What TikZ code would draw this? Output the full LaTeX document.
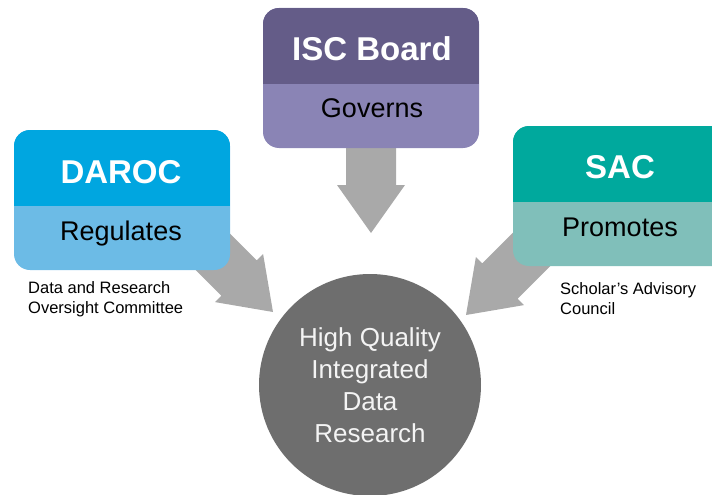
\documentclass[tikz,border=0pt]{standalone}
\usepackage{fontspec}
\setmainfont{Liberation Sans}
\usetikzlibrary{calc}
\definecolor{darocTop}{HTML}{00A6E0}
\definecolor{darocBot}{HTML}{6CBBE6}
\definecolor{iscTop}{HTML}{645C88}
\definecolor{iscBot}{HTML}{8A84B5}
\definecolor{sacTop}{HTML}{00A99D}
\definecolor{sacBot}{HTML}{80BFBA}
\definecolor{arrowGray}{HTML}{A9A9A9}
\definecolor{circleGray}{HTML}{6E6E6E}
\definecolor{circleText}{HTML}{F4F4F4}
\tikzset{
  box/.style={rectangle, rounded corners=16pt, minimum width=216pt, minimum height=140pt, inner sep=0pt, draw=none},
  topband/.style={path picture={\fill[#1, sharp corners] (path picture bounding box.north west) rectangle ([yshift=-76pt]path picture bounding box.north east);}},
  titletext/.style={text=white, font=\fontsize{33}{40}\selectfont\bfseries, anchor=base, inner sep=0pt},
  roletext/.style={text=black, font=\fontsize{27}{32}\selectfont, anchor=base, inner sep=0pt},
  subtext/.style={text=black, font=\fontsize{16.5}{20}\selectfont, anchor=north west, align=left, inner sep=0pt},
  centertext/.style={circle, fill=circleGray, minimum size=222pt, inner sep=0pt, text=circleText, font=\fontsize{26}{32}\selectfont, align=center},
  blockarrow/.style={fill=arrowGray},
}
\newcommand{\blockArrow}[2]{%
  \coordinate (#1-base) at ($(#2)!48pt!(#1)$);
  \fill[blockarrow] ($(#1)!25pt!90:(#2)$) -- ($(#1-base)!25pt!90:(#2)$)
    -- ($(#1-base)!34pt!90:(#2)$) -- (#2) -- ($(#1-base)!34pt!-90:(#2)$)
    -- ($(#1-base)!25pt!-90:(#2)$) -- ($(#1)!25pt!-90:(#2)$) -- cycle;
}
\begin{document}
\begin{tikzpicture}[x=1pt, y=-1pt]
\useasboundingbox (0,0) rectangle (712,495);
% arrow anchors
\coordinate (iscStart) at (371,120);
\coordinate (iscTip) at (371,233);
\coordinate (darocStart) at (168,207);
\coordinate (darocTip) at (273,312);
\coordinate (sacStart) at (571,210);
\coordinate (sacTip) at (466,315);
\blockArrow{iscStart}{iscTip}
\blockArrow{darocStart}{darocTip}
\blockArrow{sacStart}{sacTip}
% boxes
\node[box, fill=darocBot, topband=darocTop] (darocBox) at (122,200) {};
\node[box, fill=iscBot, topband=iscTop] (iscBox) at (371,78) {};
\node[box, fill=sacBot, topband=sacTop] (sacBox) at (621,196) {};
% texts
\node[titletext] (darocTitle) at (121,183) {DAROC};
\node[roletext] (darocRole) at (121,240) {Regulates};
\node[titletext] (iscTitle) at (372,60) {ISC Board};
\node[roletext] (iscRole) at (372,117) {Governs};
\node[titletext] (sacTitle) at (620,178) {SAC};
\node[roletext] (sacRole) at (620,236) {Promotes};
\node[subtext] (darocSub) at (28,281) {Data and Research\\Oversight Committee};
\node[subtext] (sacSub) at (560,282) {Scholar’s Advisory\\Council};
% circle
\node[centertext] (hq) at (370,385) {High Quality\\Integrated\\Data\\Research};
\end{tikzpicture}
\end{document}
